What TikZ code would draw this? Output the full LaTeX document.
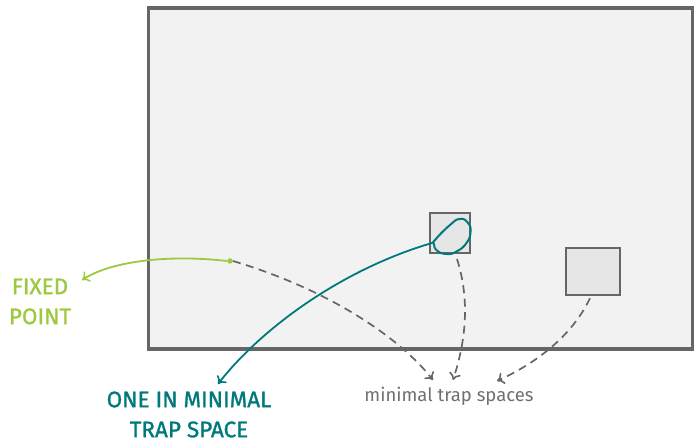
\documentclass[tikz,border=0pt]{standalone}
\usepackage{fontspec}
\setmainfont{Fira Sans}
\newfontfamily\labelfont{Fira Sans}[FakeBold=1.2]
\usetikzlibrary{arrows.meta}
\definecolor{fpgreen}{HTML}{9DC940}
\definecolor{tsteal}{HTML}{00797C}
\definecolor{framegray}{HTML}{666666}
\definecolor{spacefill}{HTML}{F2F2F2}
\definecolor{boxfill}{HTML}{E6E6E6}
\definecolor{txtgray}{HTML}{707070}
\tikzset{
  barb/.style={-{To[length=7pt,width=12pt,line width=1.6pt]}},
  statespace/.style={draw=framegray,fill=spacefill,line width=3.2pt},
  trapbox/.style={draw=framegray,fill=boxfill,line width=2pt,minimum size=0pt,inner sep=0pt},
  dashlink/.style={draw=framegray,line width=1.7pt,dash pattern=on 8pt off 5.5pt,barb},
  label/.style={font=\labelfont\fontsize{22.5}{30}\selectfont,align=center,inner sep=0pt},
}
\begin{document}
\begin{tikzpicture}[x=1pt,y=-1pt]
\useasboundingbox (0,0) rectangle (694,443);
% state space
\draw[statespace] (148.5,8) rectangle (693,349);
% trap boxes
\draw[trapbox] (429.5,213.5) rectangle (469.5,253.5);
\node[inner sep=0pt,minimum size=40pt] (tsa) at (449.5,233.5) {};
\draw[trapbox] (566,248) rectangle (620,295);
\node[inner sep=0pt,minimum width=54pt,minimum height=47pt] (tsb) at (593,271.5) {};
% teal loop (attractor)
\draw[tsteal,line width=2pt] plot[smooth cycle,tension=0.9] coordinates {(435,240) (450,225) (460,219) (468,223) (470.5,232) (466.5,243) (456.5,251.5) (446.5,254) (437,250.5) (434,244)};
\coordinate (loopstart) at (432,243);
% fixed point dot
\node[circle,fill=fpgreen,inner sep=0pt,minimum size=5.5pt] (fp) at (230,261) {};
% labels
\node[label,text=fpgreen] (fplabel) at (40,301.5) {FIXED\\POINT};
\node[label,text=tsteal] (tslabel) at (189,414.5) {ONE IN MINIMAL\\TRAP SPACE};
\node[font=\fontsize{18.5}{20}\selectfont,text=txtgray,inner sep=0pt] (mts) at (449,396) {minimal trap spaces};
\coordinate (fptip) at (82,280);
\coordinate (tstip) at (218,384);
\coordinate (m1) at (433,380);
\coordinate (m2) at (453,380);
\coordinate (m3) at (497,381);
% green arrow
\draw[fpgreen,line width=1.8pt,barb] (fp.west) .. controls (165,254) and (110,262) .. (fptip);
% teal arrow
\draw[tsteal,line width=1.8pt,barb] (loopstart) .. controls (340,270) and (260,330) .. (tstip);
% dashed arrows
\draw[dashlink] (fp.east) .. controls (330,290) and (400,338) .. (m1);
\draw[dashlink] (457,259) .. controls (470,300) and (466,340) .. (m2);
\draw[dashlink] (tsb.south) ++(-3,3) .. controls (570,340) and (530,366) .. (m3);
\end{tikzpicture}
\end{document}
